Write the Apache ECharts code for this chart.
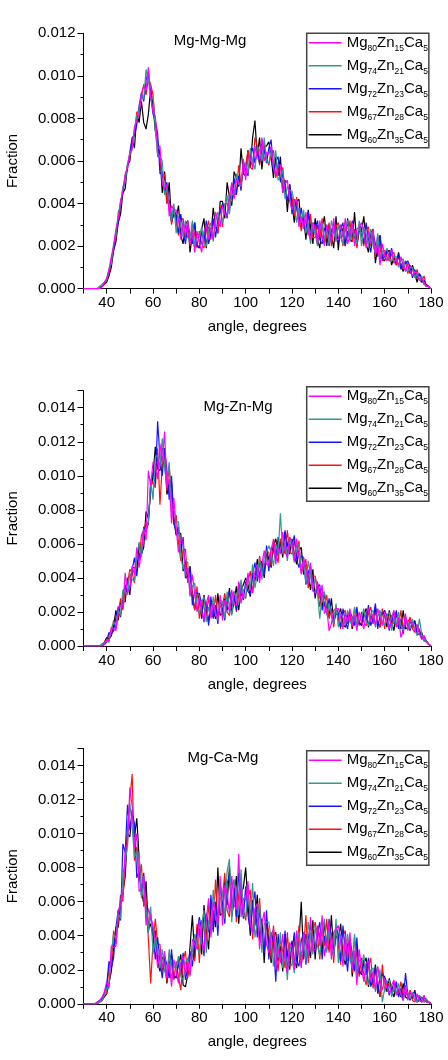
<!DOCTYPE html>
<html>
<head>
<meta charset="utf-8">
<script src="https://cdn.jsdelivr.net/npm/echarts@6/dist/echarts.min.js"></script>
<style>
  html, body { margin: 0; padding: 0; background: #fff; }
  #chart { width: 448px; height: 1060px; }
</style>
</head>
<body>
<div id="chart"></div>
<script>
// angle axis: one sample per degree, 30..180
const angleStart = 30;
const angleStep = 1;

// fractions are stored x 1e-4, one row = 10 degrees (30-39, 40-49, ... 170-179, 180)

// Mg-Mg-Mg
const mgMg80 = [
  0,0,0,0,0,0,0,0,1,3,
  5,9,15,20,28,33,41,46,54,57,
  64,66,76,79,82,92,95,93,104,90,
  83,81,66,67,49,47,49,34,39,37,
  37,32,23,31,25,32,21,27,17,27,
  22,17,27,30,23,29,23,36,32,29,
  39,35,34,43,50,42,51,50,48,61,
  51,62,61,57,67,61,61,71,60,64,
  63,67,57,53,58,58,45,49,51,41,
  37,41,42,29,34,28,36,27,23,31,
  29,21,32,25,20,30,27,22,33,23,
  23,30,24,33,21,25,31,20,28,29,
  31,27,19,27,21,28,16,21,11,21,
  16,13,17,18,12,14,11,15,11,8,
  12,8,6,8,7,4,5,3,1,1,
  0];
const mgMg74 = [
  0,0,0,0,0,0,0,1,2,3,
  4,9,12,21,25,36,39,48,50,59,
  63,65,75,81,84,91,89,103,98,89,
  90,75,63,62,60,44,47,39,32,40,
  26,34,30,24,32,24,22,32,20,24,
  24,29,21,20,28,31,22,31,36,31,
  31,39,44,35,45,43,54,49,48,59,
  59,54,66,60,56,67,65,60,71,60,
  59,65,58,65,51,53,56,42,48,46,
  46,40,31,38,31,37,26,31,21,31,
  26,20,29,31,23,28,21,32,27,22,
  30,24,21,28,32,22,29,25,21,32,
  20,29,26,20,28,20,17,26,14,18,
  17,19,14,13,15,15,10,13,14,9,
  8,10,10,5,7,4,6,2,1,1,
  0];
const mgMg72 = [
  0,0,0,0,0,0,0,0,1,3,
  4,8,13,18,27,31,41,45,53,56,
  64,71,72,77,86,92,88,98,102,91,
  82,79,73,54,55,45,50,38,32,38,
  34,26,35,27,21,30,26,21,31,20,
  20,27,22,32,21,26,33,24,33,36,
  40,38,33,44,42,52,44,53,46,59,
  56,53,63,66,59,65,59,70,65,59,
  66,70,55,60,62,50,54,47,41,49,
  35,42,38,31,38,29,27,36,24,28,
  28,32,23,21,28,30,20,27,31,24,
  22,28,31,20,27,23,32,24,21,30,
  28,21,31,23,17,26,21,15,25,14,
  15,18,14,19,12,13,16,9,12,12,
  13,10,5,9,5,7,3,4,1,1,
  0];
const mgMg67 = [
  0,0,0,0,0,0,0,0,1,2,
  4,7,12,19,24,34,39,47,51,58,
  62,70,72,83,83,90,96,91,99,96,
  91,78,62,63,52,54,40,42,30,38,
  31,25,32,33,24,28,20,31,25,19,
  27,21,19,27,32,23,31,29,26,39,
  29,40,40,37,49,44,45,58,49,56,
  58,65,57,56,71,67,58,65,69,61,
  58,63,65,52,57,51,57,46,41,47,
  43,34,43,34,27,35,31,25,35,24,
  24,30,24,33,21,25,31,20,28,29,
  31,27,20,29,24,32,22,28,19,30,
  25,20,28,29,20,24,15,25,19,13,
  18,15,13,16,17,11,15,12,9,13,
  7,11,9,5,9,4,3,6,1,1,
  0];
const mgMg60 = [
  0,0,0,0,0,0,0,1,1,2,
  3,6,10,18,22,31,35,45,47,58,
  60,70,66,82,78,88,78,75,82,94,
  86,74,69,63,45,55,40,50,31,35,
  33,39,25,21,30,32,17,26,31,20,
  19,28,33,19,29,25,38,29,26,41,
  41,33,50,43,39,55,52,48,66,54,
  53,65,57,71,79,62,71,56,67,67,
  69,62,52,62,53,62,45,51,36,49,
  40,31,41,42,29,34,23,37,29,21,
  33,23,19,29,34,20,30,25,19,34,
  18,30,27,20,33,23,22,36,20,27,
  27,34,21,17,26,28,12,20,25,14,
  13,17,18,11,15,11,17,11,8,13,
  11,7,11,7,3,7,5,2,2,1,
  0];

// Mg-Zn-Mg
const mgZn80 = [
  0,0,0,0,0,0,0,0,0,1,
  4,3,11,10,9,23,24,23,43,31,
  34,47,42,58,46,56,69,62,103,94,
  108,107,98,119,108,126,93,98,72,87,
  69,55,63,61,43,46,30,42,31,20,
  29,20,15,25,30,16,25,20,15,30,
  15,27,25,20,33,24,24,38,25,33,
  34,43,33,32,44,48,37,48,56,48,
  47,57,62,48,58,54,67,56,52,64,
  61,50,63,52,42,52,45,37,49,33,
  31,38,28,36,19,22,9,13,21,22,
  22,17,10,19,14,22,12,18,9,20,
  15,10,20,22,14,19,12,22,17,12,
  20,14,10,17,21,11,17,5,9,19,
  9,15,13,9,13,7,4,6,2,1,
  0];
const mgZn74 = [
  0,0,0,0,0,0,0,0,1,2,
  3,2,10,14,12,21,18,33,32,30,
  43,39,38,52,61,52,66,69,73,98,
  86,111,112,105,122,104,95,108,78,81,
  73,73,53,45,51,49,29,35,37,23,
  19,26,29,14,23,17,29,18,15,27,
  26,16,32,24,18,32,29,24,39,28,
  29,40,34,48,34,42,52,39,52,55,
  59,55,47,60,54,78,54,62,50,64,
  57,49,59,60,46,50,37,50,41,32,
  40,31,16,30,32,18,25,19,13,25,
  11,19,17,12,21,14,13,23,12,17,
  17,22,14,12,19,21,11,17,21,14,
  12,18,20,9,16,12,20,12,9,17,
  14,10,16,10,6,16,7,3,3,1,
  0];
const mgZn72 = [
  0,0,0,0,0,0,0,0,0,1,
  3,8,7,9,17,23,17,28,36,32,
  33,45,52,41,54,53,70,67,73,95,
  102,95,132,111,100,116,103,86,100,73,
  66,70,55,64,40,41,46,24,32,31,
  31,24,14,26,12,29,16,24,13,27,
  22,15,28,32,22,30,21,37,31,27,
  38,32,30,42,49,38,49,46,42,59,
  44,58,56,51,64,55,55,68,54,60,
  59,65,51,46,53,52,36,43,47,34,
  30,35,36,21,26,19,28,18,13,23,
  19,11,22,15,10,20,17,12,23,13,
  13,20,15,24,12,16,25,10,18,19,
  21,17,9,18,13,21,10,16,7,17,
  12,9,14,14,8,9,4,6,3,1,
  0];
const mgZn67 = [
  0,0,0,0,0,0,0,0,0,1,
  2,7,7,15,10,18,28,21,33,37,
  45,43,37,53,50,65,68,73,71,95,
  96,93,116,83,106,112,91,106,88,71,
  77,61,50,56,57,37,43,31,21,35,
  16,27,23,17,29,18,17,30,17,23,
  24,31,20,18,29,32,20,30,37,29,
  28,38,44,31,42,39,53,44,42,56,
  55,47,63,55,49,63,60,54,68,55,
  54,62,52,62,43,46,51,34,43,41,
  41,34,23,32,23,30,16,22,11,23,
  16,10,19,21,13,18,11,22,17,12,
  20,14,12,19,23,13,20,15,11,22,
  10,19,16,11,20,13,11,21,10,14,
  14,17,10,8,11,10,4,5,3,1,
  0];
const mgZn60 = [
  0,0,0,0,0,0,0,0,1,2,
  5,4,6,12,21,15,26,26,26,40,
  30,46,46,44,60,54,58,79,75,91,
  100,117,104,103,116,116,89,96,96,75,
  65,67,66,44,50,38,47,30,21,32,
  27,16,30,21,14,26,22,16,31,18,
  19,28,21,34,19,26,35,21,33,36,
  40,36,29,43,38,51,40,50,40,56,
  51,46,59,63,53,61,52,67,60,54,
  63,54,48,56,58,42,48,41,33,45,
  28,37,31,23,31,21,17,28,14,19,
  18,22,13,11,18,20,10,17,21,14,
  12,18,22,11,18,14,23,14,11,20,
  18,11,21,14,9,19,15,10,21,10,
  11,15,11,15,7,7,8,3,3,1,
  0];

// Mg-Ca-Mg
const mgCa80 = [
  0,0,0,0,0,0,1,2,4,7,
  13,10,34,33,34,55,58,63,91,94,
  127,116,92,100,66,68,75,46,56,51,
  46,36,21,32,21,31,15,24,10,26,
  19,12,24,28,17,25,17,38,35,32,
  49,36,31,50,62,39,60,53,46,75,
  46,70,65,53,75,58,55,88,51,62,
  61,72,47,41,56,59,32,47,54,35,
  30,40,44,20,33,24,41,25,18,36,
  33,20,43,30,21,42,37,28,51,31,
  32,46,34,52,28,36,48,26,42,44,
  46,37,22,39,27,42,20,31,11,32,
  21,13,24,25,13,19,8,22,14,8,
  15,9,6,11,14,5,9,6,2,11,
  2,7,5,2,6,2,1,5,1,1,
  0];
const mgCa74 = [
  0,0,0,0,0,0,0,1,2,5,
  9,9,30,41,38,53,50,76,83,93,
  118,104,86,90,88,62,71,56,42,57,
  29,39,32,21,32,19,16,32,15,22,
  21,28,16,14,24,27,16,31,41,34,
  29,46,55,30,49,41,67,50,46,70,
  66,50,78,85,48,73,65,52,79,52,
  51,67,50,71,39,47,59,30,47,48,
  48,38,22,38,27,42,21,33,14,36,
  27,18,37,42,27,38,25,48,39,29,
  46,34,28,42,50,30,44,36,28,50,
  24,41,36,25,41,26,22,41,17,26,
  23,29,15,11,20,21,7,15,20,1,
  9,13,14,4,10,6,12,5,2,9,
  6,3,7,4,1,5,3,1,3,1,
  0];
const mgCa72 = [
  0,0,0,0,0,0,1,2,3,6,
  11,25,21,27,45,55,49,94,89,117,
  102,112,106,74,78,64,77,54,42,53,
  41,26,39,25,15,28,23,15,32,15,
  16,25,17,30,14,21,31,22,37,41,
  51,43,28,53,42,64,42,60,40,70,
  59,47,71,75,55,68,51,77,63,50,
  69,52,43,58,66,39,55,43,30,55,
  26,42,36,13,41,26,23,43,20,30,
  31,42,25,22,37,42,23,38,47,33,
  30,42,48,26,40,32,50,34,28,46,
  40,25,46,31,19,38,30,19,39,18,
  18,26,17,27,10,15,22,6,16,17,
  16,12,5,11,7,13,4,9,2,18,
  5,2,6,7,1,4,1,4,1,1,
  0];
const mgCa67 = [
  0,0,0,0,0,0,0,1,2,5,
  6,22,23,43,35,49,64,60,85,102,
  120,135,84,92,72,82,57,62,38,12,
  36,50,35,35,19,25,13,30,23,14,
  25,16,8,25,31,15,29,29,25,47,
  24,49,45,35,59,44,44,73,48,62,
  63,77,55,51,68,73,48,64,73,55,
  49,62,67,38,53,41,62,40,30,50,
  42,26,46,30,19,38,31,21,42,22,
  23,38,27,46,23,32,52,24,41,43,
  48,40,26,44,34,50,30,42,24,46,
  34,23,40,43,25,34,18,39,27,16,
  27,17,11,22,27,9,20,13,4,23,
  7,13,11,6,13,6,5,13,3,7,
  5,8,2,1,4,5,1,2,2,1,
  0];
const mgCa60 = [
  0,0,0,0,0,0,0,1,2,4,
  6,12,19,33,45,45,58,65,75,100,
  98,114,98,109,86,66,59,72,44,47,
  40,43,25,19,27,28,12,23,29,17,
  15,23,29,11,10,17,34,52,27,44,
  44,29,58,43,32,59,54,45,80,52,
  53,72,58,81,51,61,75,47,66,68,
  80,59,40,61,46,64,37,50,24,50,
  36,24,40,42,25,34,19,41,30,20,
  37,26,21,36,60,26,41,34,27,49,
  26,44,40,30,48,34,32,52,30,40,
  38,47,28,23,35,38,16,29,35,20,
  17,24,27,10,18,11,23,10,4,19,
  14,7,15,8,4,11,8,4,12,4,
  3,7,3,8,1,2,4,1,2,1,
  0];

const seriesNames = ['Mg80Zn15Ca5', 'Mg74Zn21Ca5', 'Mg72Zn23Ca5', 'Mg67Zn28Ca5', 'Mg60Zn35Ca5'];
const seriesColors = ['#ff00ff', '#2e9a90', '#1414ff', '#ff1010', '#000000'];

const xTickValues = [40, 60, 80, 100, 120, 140, 160, 180];

const panels = [
  { title: 'Mg-Mg-Mg', titleX: 210, titleY: 41, yMax: 0.012, top: 33.3,
    legendTop: 33.3, data: [mgMg80, mgMg74, mgMg72, mgMg67, mgMg60] },
  { title: 'Mg-Zn-Mg', titleX: 238, titleY: 407, yMax: 0.015, top: 390.7,
    legendTop: 386.7, data: [mgZn80, mgZn74, mgZn72, mgZn67, mgZn60] },
  { title: 'Mg-Ca-Mg', titleX: 223, titleY: 758, yMax: 0.015, top: 748.5,
    legendTop: 750.7, data: [mgCa80, mgCa74, mgCa72, mgCa67, mgCa60] }
];

const FONT = '"Liberation Sans", Arial, sans-serif';
const gridLeft = 83.5;
const gridWidth = 347.5;
const gridHeight = 255.3;

function toPairs(arr) {
  return arr.map((v, i) => [angleStart + i * angleStep, v / 10000]);
}

const grids = [], xAxes = [], yAxes = [], series = [], legends = [], graphics = [];

panels.forEach((p, idx) => {
  grids.push({
    left: gridLeft, top: p.top, width: gridWidth, height: gridHeight,
    containLabel: false, outerBoundsMode: 'none'
  });

  xAxes.push({
    type: 'value', gridIndex: idx, min: 30, max: 180, interval: 10,
    name: 'angle, degrees', nameLocation: 'middle', nameGap: 31,
    nameTextStyle: { fontFamily: FONT, fontSize: 15, color: '#000' },
    axisLine: { show: true, onZero: false, lineStyle: { color: '#000', width: 1 } },
    axisTick: { show: true, length: 5, lineStyle: { color: '#000' } },
    axisLabel: {
      margin: 7, fontFamily: FONT, fontSize: 15, color: '#000',
      formatter: v => (xTickValues.indexOf(v) >= 0 ? String(v) : '')
    },
    splitLine: { show: false }
  });

  yAxes.push({
    type: 'value', gridIndex: idx, min: 0, max: p.yMax, interval: 0.002,
    name: 'Fraction', nameLocation: 'middle', nameGap: 63, nameRotate: 90,
    nameTextStyle: { fontFamily: FONT, fontSize: 15, color: '#000' },
    axisLine: { show: true, lineStyle: { color: '#000', width: 1 } },
    axisTick: { show: true, length: 6, lineStyle: { color: '#000' } },
    minorTick: { show: true, splitNumber: 2, length: 3, lineStyle: { color: '#000' } },
    axisLabel: {
      margin: 8, fontFamily: FONT, fontSize: 15, color: '#000',
      formatter: v => (Math.round(v * 1000) % 2 === 0 ? v.toFixed(3) : '')
    },
    splitLine: { show: false }
  });

  // black drawn first, magenta last (on top)
  for (let k = seriesNames.length - 1; k >= 0; k--) {
    series.push({
      name: seriesNames[k], type: 'line', xAxisIndex: idx, yAxisIndex: idx,
      data: toPairs(p.data[k]), symbol: 'none', silent: true,
      lineStyle: { color: seriesColors[k], width: 1.2 },
      itemStyle: { color: seriesColors[k] }
    });
  }

  legends.push({
    data: seriesNames, orient: 'vertical', left: 306.7, top: p.legendTop,
    padding: [2, 1, 3, 2], itemGap: 5.5, itemWidth: 33, itemHeight: 1.6,
    icon: 'rect',
    borderColor: '#444', borderWidth: 1.5, backgroundColor: '#fff',
    selectedMode: false,
    formatter: name => name.replace(/([A-Za-z]+)(\d+)/g, '{n|$1}{s|$2}'),
    textStyle: {
      fontFamily: FONT, color: '#000',
      rich: {
        n: { fontFamily: FONT, fontSize: 15, lineHeight: 20, verticalAlign: 'middle', color: '#000' },
        s: { fontFamily: FONT, fontSize: 8.5, lineHeight: 5, verticalAlign: 'bottom', color: '#000' }
      }
    }
  });

  graphics.push({
    type: 'text', x: p.titleX, y: p.titleY,
    style: { text: p.title, fontFamily: FONT, fontSize: 15, fill: '#000',
             textAlign: 'center', textVerticalAlign: 'middle' }
  });
});

const chart = echarts.init(document.getElementById('chart'), null, { renderer: 'canvas' });
chart.setOption({
  animation: false,
  backgroundColor: '#fff',
  grid: grids,
  xAxis: xAxes,
  yAxis: yAxes,
  legend: legends,
  graphic: graphics,
  series: series
});
</script>
</body>
</html>
